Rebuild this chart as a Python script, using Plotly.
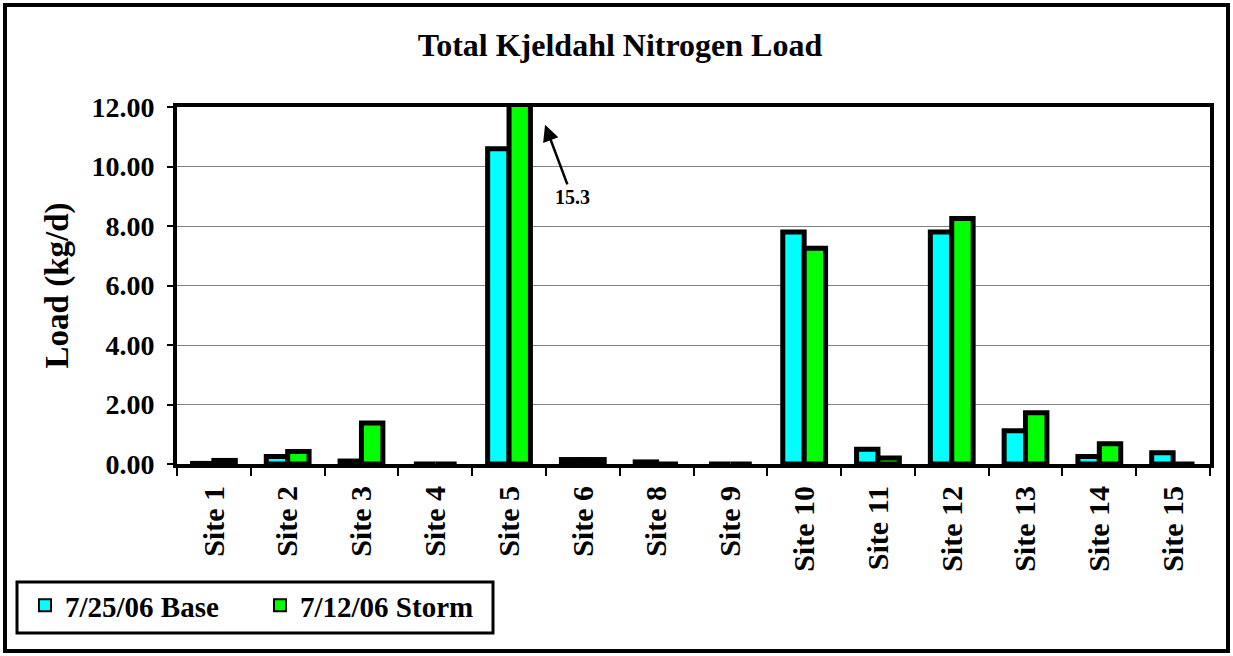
import plotly.graph_objects as go

# Total Kjeldahl Nitrogen load per site, kg/d
sites = ["Site 1", "Site 2", "Site 3", "Site 4", "Site 5", "Site 6", "Site 8",
         "Site 9", "Site 10", "Site 11", "Site 12", "Site 13", "Site 14", "Site 15"]
base_load = [0.02, 0.25, 0.10, 0.0, 10.6, 0.15, 0.07, 0.0, 7.8, 0.5, 7.8, 1.12, 0.25, 0.38]
storm_load = [0.12, 0.42, 1.38, 0.0, 15.3, 0.15, 0.0, 0.0, 7.25, 0.2, 8.25, 1.72, 0.68, 0.0]
series_names = ["7/25/06 Base", "7/12/06 Storm"]
y_ticks = [0, 2, 4, 6, 8, 10, 12]

FONT = "Liberation Serif"
W, H = 1233, 656
L, R, T, B = 177, 23, 107, 192
PW, PH = W - L - R, H - T - B


def px_x(x):
    return (x - L) / PW


def px_y(y):
    return (H - B - y) / PH


fig = go.Figure()
fig.add_trace(go.Bar(x=sites, y=base_load, name=series_names[0],
                     marker=dict(color="#00FFFF", line=dict(color="black", width=5))))
fig.add_trace(go.Bar(x=sites, y=storm_load, name=series_names[1],
                     marker=dict(color="#00FF00", line=dict(color="black", width=5))))

# Site 5 storm bar runs off the scale; point at it and give its value
s5 = sites.index("Site 5")
fig.add_annotation(x=sites[s5], y=11.4, xref="x", yref="y", xshift=36,
                   text=f"{storm_load[s5]:.1f}", showarrow=True,
                   ax=27, ay=72, arrowhead=2, arrowsize=1.3, arrowwidth=2.5,
                   arrowcolor="black",
                   font=dict(family=FONT, size=20, color="black", weight="bold"))

# Outer frame and legend frame
fig.add_shape(type="rect", xref="paper", yref="paper",
              x0=px_x(5), x1=px_x(1228), y0=px_y(651), y1=px_y(5),
              line=dict(color="black", width=4), layer="above")
fig.add_shape(type="rect", xref="paper", yref="paper",
              x0=px_x(17), x1=px_x(493), y0=px_y(633), y1=px_y(582),
              line=dict(color="black", width=3), layer="above")

fig.update_layout(
    width=W, height=H,
    margin=dict(l=L, r=R, t=T, b=B),
    paper_bgcolor="white", plot_bgcolor="white",
    font=dict(family=FONT, color="black", weight="bold"),
    title=dict(text="Total Kjeldahl Nitrogen Load", x=(620 - L) / PW,
               xref="paper", xanchor="center", y=1 - 45 / H, yanchor="middle",
               font=dict(family=FONT, size=32, color="black", weight="bold")),
    barmode="group", bargap=0.42, bargroupgap=0.0,
    showlegend=True,
    legend=dict(orientation="h", x=px_x(25), y=px_y(580), xanchor="left", yanchor="top",
                bgcolor="rgba(0,0,0,0)", borderwidth=0,
                font=dict(family=FONT, size=29, color="black", weight="bold"),
                entrywidth=190, itemsizing="constant", traceorder="normal"),
    xaxis=dict(showline=True, linecolor="black", linewidth=4, mirror=True,
               ticks="outside", tickson="boundaries", ticklen=8, tickwidth=2,
               tickcolor="black", tickangle=-90, ticklabelstandoff=6,
               tickfont=dict(family=FONT, size=30, color="black", weight="bold"),
               showgrid=False),
    yaxis=dict(range=[0, 12], tickvals=y_ticks, tickformat=".2f",
               showline=True, linecolor="black", linewidth=4, mirror=True,
               ticks="outside", ticklen=6, tickwidth=2, tickcolor="black",
               ticklabelstandoff=7,
               tickfont=dict(family=FONT, size=28, color="black", weight="bold"),
               showgrid=True, gridcolor="#808080", gridwidth=1,
               zeroline=False,
               title=dict(text="Load (kg/d)", standoff=14,
                          font=dict(family=FONT, size=33, color="black", weight="bold"))),
)

fig.write_html("out.html")
